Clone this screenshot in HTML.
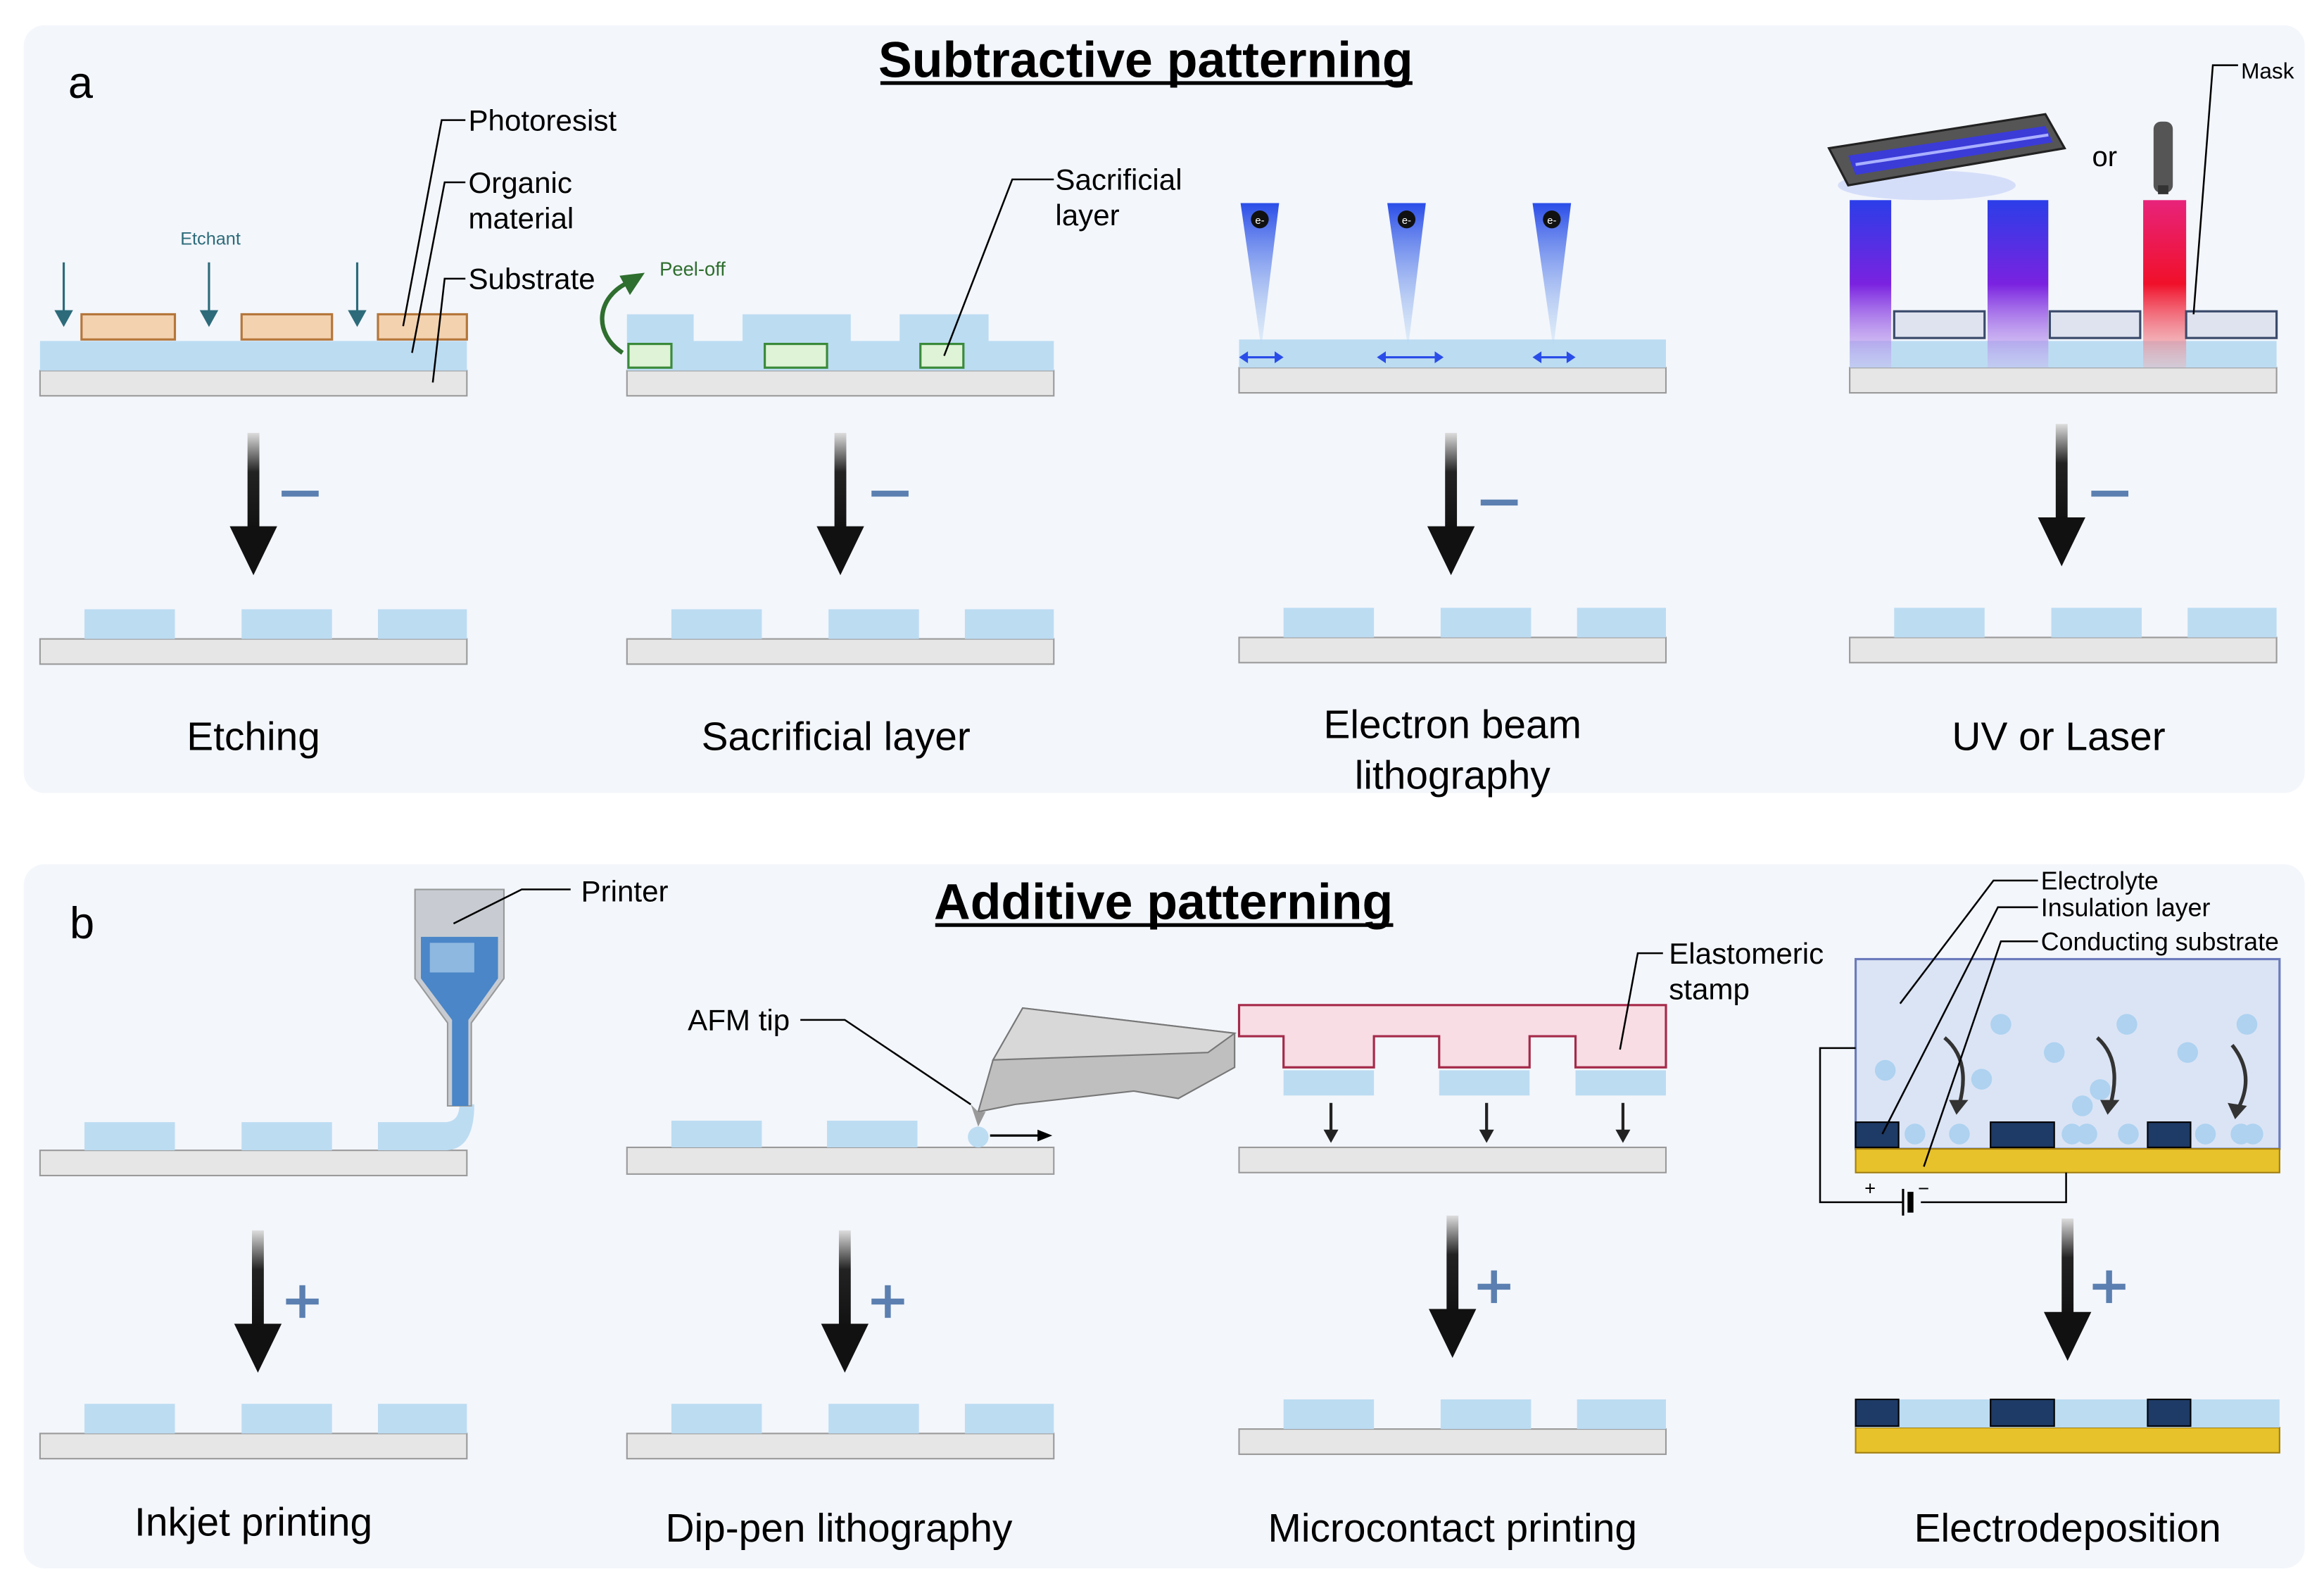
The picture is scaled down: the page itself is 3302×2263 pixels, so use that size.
<!DOCTYPE html>
<html><head><meta charset="utf-8"><style>
html,body{margin:0;padding:0;background:#fff;}
svg{display:block;font-family:"Liberation Sans",sans-serif;}
</style></head><body>
<svg width="3302" height="2263" viewBox="0 0 1568 1074.6" xmlns="http://www.w3.org/2000/svg">
<defs>
<linearGradient id="ag" x1="0" y1="0" x2="0" y2="1"><stop offset="0" stop-color="#ddd"/><stop offset="0.4" stop-color="#222"/><stop offset="1" stop-color="#111"/></linearGradient>
<linearGradient id="eb" x1="0" y1="0" x2="0" y2="1"><stop offset="0" stop-color="#2a4de8"/><stop offset="1" stop-color="#bcdcf2" stop-opacity="0.3"/></linearGradient>
<linearGradient id="uv" x1="0" y1="0" x2="0" y2="1"><stop offset="0" stop-color="#2b3ee8"/><stop offset="0.5" stop-color="#7a22e0"/><stop offset="1" stop-color="#c8b4f0" stop-opacity="0.4"/></linearGradient>
<linearGradient id="las" x1="0" y1="0" x2="0" y2="1"><stop offset="0" stop-color="#e8237a"/><stop offset="0.5" stop-color="#f0102a"/><stop offset="1" stop-color="#f4b0b0" stop-opacity="0.4"/></linearGradient>
<g id="bigarrow"><rect x="-4" y="0" width="8" height="66" fill="url(#ag)"/><polygon points="-16,63 16,63 0,96" fill="#111"/></g>
<g id="minus"><rect x="0" y="-2" width="25" height="4" fill="#5b7fb0"/></g>
<g id="plus"><rect x="-11" y="-2" width="22" height="4" fill="#5b7fb0"/><rect x="-2" y="-11" width="4" height="22" fill="#5b7fb0"/></g>
<g id="res"><rect x="0" y="20" width="288" height="17" fill="#e6e6e6" stroke="#9a9a9a"/><rect x="30" y="0" width="61" height="20" fill="#bcdcf2"/><rect x="136" y="0" width="61" height="20" fill="#bcdcf2"/><rect x="228" y="0" width="60" height="20" fill="#bcdcf2"/></g>
</defs>
<rect x="16" y="17" width="1539" height="518" rx="14" fill="#f3f6fb"/>
<rect x="16" y="583" width="1539" height="475" rx="14" fill="#f3f6fb"/>
<text x="46" y="66" font-size="30">a</text>
<text x="773" y="52" font-size="34" font-weight="bold" text-anchor="middle">Subtractive patterning</text>
<line x1="594" y1="56" x2="953" y2="56" stroke="#000" stroke-width="2.5"/>
<text x="47" y="633" font-size="30">b</text>
<text x="785" y="620" font-size="34" font-weight="bold" text-anchor="middle">Additive patterning</text>
<line x1="631" y1="624" x2="940" y2="624" stroke="#000" stroke-width="2.5"/>

<!-- Etching -->
<rect x="27" y="250" width="288" height="17" fill="#e6e6e6" stroke="#9a9a9a"/>
<rect x="27" y="230" width="288" height="20" fill="#bcdcf2"/>
<g fill="#f3d2b0" stroke="#b5763a" stroke-width="1.5"><rect x="55" y="212" width="63" height="17"/><rect x="163" y="212" width="61" height="17"/><rect x="255" y="212" width="60" height="17"/></g>
<g stroke="#2d6b7a" stroke-width="1.5" fill="#2d6b7a"><line x1="43" y1="177" x2="43" y2="212"/><polygon points="38,210 48,210 43,219"/><line x1="141" y1="177" x2="141" y2="212"/><polygon points="136,210 146,210 141,219"/><line x1="241" y1="177" x2="241" y2="212"/><polygon points="236,210 246,210 241,219"/></g>
<text x="142" y="165" font-size="12" fill="#2d6b7a" text-anchor="middle">Etchant</text>
<g stroke="#000" stroke-width="1.2" fill="none"><polyline points="272,220 298,81 314,81"/><polyline points="278,238 300,123 314,123"/><polyline points="292,258 300,188 314,188"/></g>
<g font-size="20"><text x="316" y="88">Photoresist</text><text x="316" y="130">Organic</text><text x="316" y="154">material</text><text x="316" y="195">Substrate</text></g>
<use href="#bigarrow" x="171" y="292"/><use href="#minus" x="190" y="333"/>
<use href="#res" x="27" y="411"/>
<text x="171" y="506" font-size="27" text-anchor="middle">Etching</text>

<!-- Sacrificial -->
<rect x="423" y="250" width="288" height="17" fill="#e6e6e6" stroke="#9a9a9a"/>
<path d="M423,230 V212 H468 V230 H501 V212 H574 V230 H607 V212 H667 V230 H711 V250 H423 Z" fill="#bcdcf2"/>
<g fill="#dff3d6" stroke="#3a8a3a" stroke-width="1.5"><rect x="424" y="232" width="29" height="16"/><rect x="516" y="232" width="42" height="16"/><rect x="621" y="232" width="29" height="16"/></g>
<path d="M420,238 C400,225 402,200 425,190" fill="none" stroke="#2e6e2e" stroke-width="3"/><polygon points="418,186 435,184 425,199" fill="#2e6e2e"/>
<text x="445" y="186" font-size="13" fill="#2e6e2e">Peel-off</text>
<polyline points="637,240 683,121 711,121" fill="none" stroke="#000" stroke-width="1.2"/>
<text x="712" y="128" font-size="20">Sacrificial</text><text x="712" y="152" font-size="20">layer</text>
<use href="#bigarrow" x="567" y="292"/><use href="#minus" x="588" y="333"/>
<use href="#res" x="423" y="411"/>
<text x="564" y="506" font-size="27" text-anchor="middle">Sacrificial layer</text>

<!-- E-beam -->
<rect x="836" y="248" width="288" height="17" fill="#e6e6e6" stroke="#9a9a9a"/>
<rect x="836" y="229" width="288" height="19" fill="#bcdcf2"/>
<g fill="url(#eb)"><polygon points="837,137 863,137 851,235"/><polygon points="936,137 962,137 950,235"/><polygon points="1034,137 1060,137 1048,235"/></g>
<g fill="#111"><circle cx="850" cy="148" r="6"/><circle cx="949" cy="148" r="6"/><circle cx="1047" cy="148" r="6"/></g>
<g fill="#fff" font-size="7" text-anchor="middle"><text x="850" y="151">e-</text><text x="949" y="151">e-</text><text x="1047" y="151">e-</text></g>
<g stroke="#2a4de8" stroke-width="1.5"><line x1="838" y1="241" x2="864" y2="241"/><line x1="931" y1="241" x2="972" y2="241"/><line x1="1036" y1="241" x2="1061" y2="241"/></g>
<g fill="#2a4de8"><polygon points="836,241 842,237 842,245"/><polygon points="866,241 860,237 860,245"/><polygon points="929,241 935,237 935,245"/><polygon points="974,241 968,237 968,245"/><polygon points="1034,241 1040,237 1040,245"/><polygon points="1063,241 1057,237 1057,245"/></g>
<use href="#bigarrow" x="979" y="292"/><use href="#minus" x="999" y="339"/>
<use href="#res" x="836" y="410"/>
<text x="980" y="498" font-size="27" text-anchor="middle">Electron beam</text>
<text x="980" y="532" font-size="27" text-anchor="middle">lithography</text>

<!-- UV -->
<rect x="1248" y="248" width="288" height="17" fill="#e6e6e6" stroke="#9a9a9a"/>
<rect x="1248" y="230" width="288" height="18" fill="#bcdcf2"/>
<rect x="1248" y="135" width="28" height="113" fill="url(#uv)"/>
<rect x="1341" y="135" width="41" height="113" fill="url(#uv)"/>
<rect x="1446" y="135" width="29" height="113" fill="url(#las)"/>
<g fill="#dfe3ef" stroke="#3b4a6b" stroke-width="1.5"><rect x="1278" y="210" width="61" height="18"/><rect x="1383" y="210" width="61" height="18"/><rect x="1475" y="210" width="61" height="18"/></g>
<ellipse cx="1300" cy="125" rx="60" ry="10" fill="#c8d4f8" opacity="0.7"/>
<polygon points="1234,100 1380,77 1393,100 1247,125" fill="#555" stroke="#222" stroke-width="1.5"/>
<polygon points="1247,105 1380,85 1385,96 1252,118" fill="#3b3bd8"/>
<line x1="1252" y1="111" x2="1382" y2="91" stroke="#aab0ff" stroke-width="2"/>
<text x="1420" y="112" font-size="19" text-anchor="middle">or</text>
<rect x="1453" y="82" width="13" height="48" rx="5" fill="#555"/><rect x="1456" y="125" width="7" height="6" fill="#333"/>
<polyline points="1480,212 1493,44 1510,44" fill="none" stroke="#000" stroke-width="1.2"/>
<text x="1512" y="53" font-size="15">Mask</text>
<use href="#bigarrow" x="1391" y="286"/><use href="#minus" x="1411" y="333"/>
<use href="#res" x="1248" y="410"/>
<text x="1389" y="506" font-size="27" text-anchor="middle">UV or Laser</text>

<!-- Inkjet -->
<rect x="27" y="776" width="288" height="17" fill="#e6e6e6" stroke="#9a9a9a"/>
<rect x="57" y="757" width="61" height="19" fill="#bcdcf2"/><rect x="163" y="757" width="61" height="19" fill="#bcdcf2"/>
<path d="M255,757 H300 Q310,757 310,745 H320 Q320,776 300,776 H255 Z" fill="#bcdcf2"/>
<path d="M280,600 V660 L302,690 V746 H318 V690 L340,660 V600 Z" fill="#c8ccd2" stroke="#999"/>
<path d="M284,632 H336 V660 L316,688 V746 H305 V688 L284,660 Z" fill="#4a86c8"/>
<rect x="290" y="636" width="30" height="20" fill="#8fb8e0"/>
<polyline points="306,623 352,600 385,600" fill="none" stroke="#000" stroke-width="1.2"/>
<text x="392" y="608" font-size="20">Printer</text>
<use href="#bigarrow" x="174" y="830"/><use href="#plus" x="204" y="878"/>
<use href="#res" x="27" y="947"/>
<text x="171" y="1036" font-size="27" text-anchor="middle">Inkjet printing</text>

<!-- Dip-pen -->
<rect x="423" y="774" width="288" height="18" fill="#e6e6e6" stroke="#9a9a9a"/>
<rect x="453" y="756" width="61" height="18" fill="#bcdcf2"/><rect x="558" y="756" width="61" height="18" fill="#bcdcf2"/>
<circle cx="660" cy="767" r="7" fill="#bcdcf2"/>
<line x1="668" y1="766" x2="702" y2="766" stroke="#000" stroke-width="1.5"/><polygon points="710,766 700,762 700,770" fill="#000"/>
<polygon points="670,715 690,680 833,697 833,720 795,741 765,736 685,745 660,750" fill="#bfbfbf" stroke="#777"/>
<polygon points="690,680 833,697 815,710 670,715" fill="#d8d8d8" stroke="#777"/>
<polygon points="660,750 655,745 660,760 665,750" fill="#999"/>
<polyline points="540,688 570,688 655,745" fill="none" stroke="#000" stroke-width="1.2"/>
<text x="464" y="695" font-size="20">AFM tip</text>
<use href="#bigarrow" x="570" y="830"/><use href="#plus" x="599" y="878"/>
<use href="#res" x="423" y="947"/>
<text x="566" y="1040" font-size="27" text-anchor="middle">Dip-pen lithography</text>

<!-- Microcontact -->
<rect x="836" y="774" width="288" height="17" fill="#e6e6e6" stroke="#9a9a9a"/>
<path d="M836,678 H1124 V720 H1063 V699 H1032 V720 H971 V699 H927 V720 H866 V699 H836 Z" fill="#f8dde4" stroke="#a52a4a" stroke-width="1.5"/>
<rect x="866" y="722" width="61" height="17" fill="#bcdcf2"/><rect x="971" y="722" width="61" height="17" fill="#bcdcf2"/><rect x="1063" y="722" width="61" height="17" fill="#bcdcf2"/>
<g stroke="#222" stroke-width="2"><line x1="898" y1="744" x2="898" y2="764"/><line x1="1003" y1="744" x2="1003" y2="764"/><line x1="1095" y1="744" x2="1095" y2="764"/></g>
<g fill="#222"><polygon points="893,762 903,762 898,771"/><polygon points="998,762 1008,762 1003,771"/><polygon points="1090,762 1100,762 1095,771"/></g>
<polyline points="1093,708 1105,643 1122,643" fill="none" stroke="#000" stroke-width="1.2"/>
<text x="1126" y="650" font-size="20">Elastomeric</text><text x="1126" y="674" font-size="20">stamp</text>
<use href="#bigarrow" x="980" y="820"/><use href="#plus" x="1008" y="868"/>
<use href="#res" x="836" y="944"/>
<text x="980" y="1040" font-size="27" text-anchor="middle">Microcontact printing</text>

<!-- Electrodeposition -->
<rect x="1252" y="647" width="286" height="128" fill="#dbe4f5" stroke="#6b7bbb" stroke-width="1.5"/>
<rect x="1252" y="775" width="286" height="16" fill="#e8c22a" stroke="#a07e10"/>
<g fill="#1e3a66" stroke="#000"><rect x="1252" y="757" width="29" height="17"/><rect x="1343" y="757" width="43" height="17"/><rect x="1449" y="757" width="29" height="17"/></g>
<g fill="#aed2f0"><circle cx="1272" cy="722" r="7"/><circle cx="1350" cy="691" r="7"/><circle cx="1337" cy="728" r="7"/><circle cx="1386" cy="710" r="7"/><circle cx="1435" cy="691" r="7"/><circle cx="1405" cy="746" r="7"/><circle cx="1417" cy="735" r="7"/><circle cx="1476" cy="710" r="7"/><circle cx="1516" cy="691" r="7"/><circle cx="1292" cy="765" r="7"/><circle cx="1322" cy="765" r="7"/><circle cx="1398" cy="765" r="7"/><circle cx="1408" cy="765" r="7"/><circle cx="1436" cy="765" r="7"/><circle cx="1488" cy="765" r="7"/><circle cx="1512" cy="765" r="7"/><circle cx="1520" cy="765" r="7"/></g>
<g stroke="#333" stroke-width="2.5" fill="none"><path d="M1312,700 Q1330,715 1322,745"/><path d="M1415,700 Q1432,715 1424,745"/><path d="M1506,705 Q1522,725 1510,748"/></g>
<g fill="#333"><polygon points="1315,742 1328,742 1320,752"/><polygon points="1417,742 1430,742 1422,752"/><polygon points="1503,744 1516,746 1508,755"/></g>
<g stroke="#000" stroke-width="1.2" fill="none"><polyline points="1282,677 1345,594 1375,594"/><polyline points="1270,765 1348,612 1375,612"/><polyline points="1298,787 1350,635 1375,635"/><polyline points="1252,707 1228,707 1228,811 1284,811"/><polyline points="1296,811 1394,811 1394,791"/></g>
<line x1="1284" y1="802" x2="1284" y2="820" stroke="#000" stroke-width="1.5"/><line x1="1289" y1="804" x2="1289" y2="818" stroke="#000" stroke-width="4"/>
<text x="1258" y="806" font-size="13">+</text><text x="1294" y="806" font-size="13">−</text>
<g font-size="17"><text x="1377" y="600">Electrolyte</text><text x="1377" y="618">Insulation layer</text><text x="1377" y="641">Conducting substrate</text></g>
<use href="#bigarrow" x="1395" y="822"/><use href="#plus" x="1423" y="868"/>
<rect x="1252" y="963" width="286" height="17" fill="#e8c22a" stroke="#a07e10"/>
<rect x="1252" y="944" width="286" height="19" fill="#bcdcf2"/>
<g fill="#1e3a66" stroke="#000"><rect x="1252" y="944" width="29" height="18"/><rect x="1343" y="944" width="43" height="18"/><rect x="1449" y="944" width="29" height="18"/></g>
<text x="1395" y="1040" font-size="27" text-anchor="middle">Electrodeposition</text>
</svg>
</body></html>
